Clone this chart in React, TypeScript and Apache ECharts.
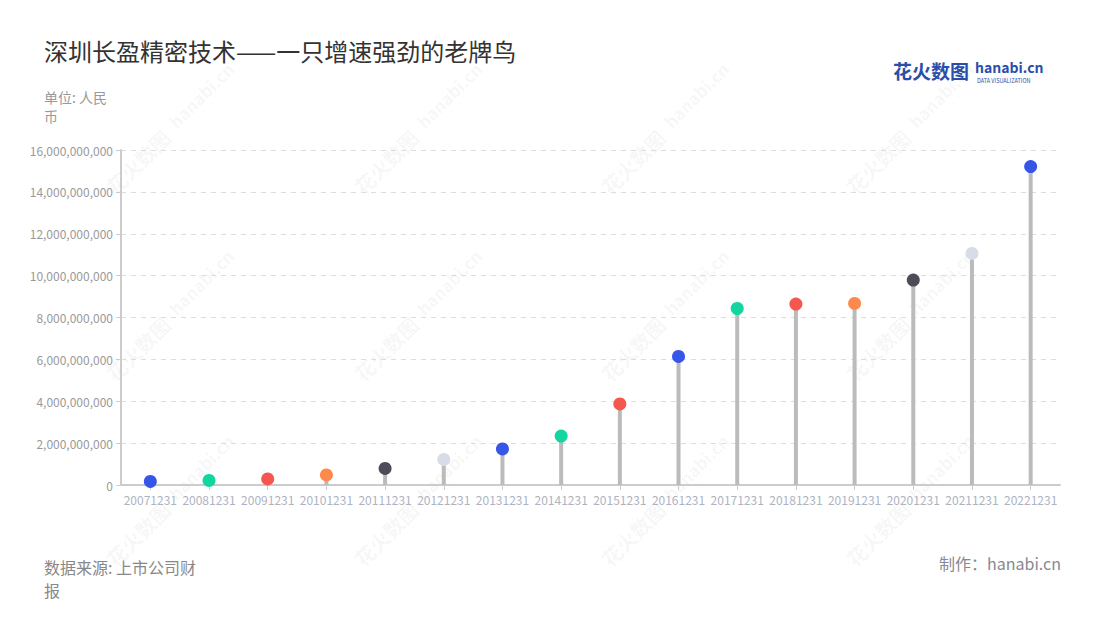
import React, { useEffect, useRef } from "react";
import * as echarts from "echarts";

const categories = [
  "20071231", "20081231", "20091231", "20101231", "20111231", "20121231",
  "20131231", "20141231", "20151231", "20161231", "20171231", "20181231",
  "20191231", "20201231", "20211231", "20221231",
];
const values = [
  170000000, 220000000, 290000000, 480000000, 790000000, 1220000000,
  1720000000, 2340000000, 3870000000, 6140000000, 8430000000, 8640000000,
  8670000000, 9790000000, 11060000000, 15210000000,
];
const dotColors = [
  "#3656e8", "#12d69e", "#f5574f", "#fd8a4c", "#4d4d58", "#d8dce6",
  "#3656e8", "#12d69e", "#f5574f", "#3656e8", "#12d69e", "#f5574f",
  "#fd8a4c", "#4d4d58", "#d8dce6", "#3656e8",
];
const yTicks = [0, 2000000000, 4000000000, 6000000000, 8000000000, 10000000000, 12000000000, 14000000000, 16000000000];
const titleText = "深圳长盈精密技术——一只增速强劲的老牌鸟";
const unitText = "单位: 人民\n币";
const sourceText = "数据来源: 上市公司财\n报";
const makerText = "制作：hanabi.cn";

const FONT = "'Noto Sans CJK SC', 'Noto Sans', sans-serif";
const WM = "rgba(0,0,0,0.05)";

function watermark(cx: number, cy: number) {
  return {
    type: "group",
    x: cx,
    y: cy,
    rotation: Math.PI / 4,
    silent: true,
    z: 0,
    children: [
      {
        type: "text",
        x: -48,
        y: 0,
        style: {
          text: "花火数图",
          fontSize: 20,
          fontWeight: "bold",
          fontFamily: FONT,
          fill: WM,
          align: "center",
          verticalAlign: "middle",
        },
      },
      {
        type: "text",
        x: 44,
        y: -3,
        style: {
          text: "hanabi.cn",
          fontSize: 17,
          fontWeight: "bold",
          fontFamily: FONT,
          fill: WM,
          align: "center",
          verticalAlign: "middle",
        },
      },
      {
        type: "text",
        x: 44,
        y: 10,
        style: {
          text: "DATA VISUALIZATION",
          fontSize: 5,
          fontFamily: FONT,
          fill: WM,
          align: "center",
          verticalAlign: "middle",
        },
      },
    ],
  };
}

export default function App() {
  const ref = useRef<HTMLDivElement>(null);
  useEffect(() => {
    if (!ref.current) return;
    const chart = echarts.init(ref.current, null, { renderer: "svg" });
    const wmXs = [172, 420, 667, 912];
    const wmYs = [128, 315, 500];
    const wms: any[] = [];
    wmYs.forEach((y) => wmXs.forEach((x) => wms.push(watermark(x, y))));

    chart.setOption({
      animation: false,
      backgroundColor: "#ffffff",
      textStyle: { fontFamily: FONT },
      grid: { left: 121, right: 40, top: 150, bottom: 135, containLabel: false },
      xAxis: {
        type: "category",
        data: categories,
        axisLine: { lineStyle: { color: "#cccccc", width: 2 } },
        axisTick: { show: true, alignWithLabel: true, length: 5, lineStyle: { color: "#cccccc" } },
        axisLabel: { color: "#aeb3c0", fontSize: 12, interval: 0, margin: 8, fontFamily: FONT },
      },
      yAxis: {
        type: "value",
        min: 0,
        max: yTicks[yTicks.length - 1],
        interval: yTicks[1] - yTicks[0],
        axisLine: { show: true, lineStyle: { color: "#cccccc", width: 2 } },
        axisTick: { show: true, length: 5, lineStyle: { color: "#cccccc" } },
        axisLabel: {
          color: "#999999",
          fontSize: 12,
          margin: 8,
          fontFamily: FONT,
          formatter: (v: number) => v.toLocaleString("en-US"),
        },
        splitLine: { show: true, lineStyle: { color: "#dddddd", type: [5, 5] } },
      },
      series: [
        {
          type: "bar",
          data: values,
          barWidth: 4,
          itemStyle: { color: "#bbbbbb" },
          z: 2,
        },
        {
          type: "scatter",
          data: values.map((v, i) => ({ value: v, itemStyle: { color: dotColors[i], opacity: 1 } })),
          symbol: "circle",
          symbolSize: 13,
          itemStyle: { opacity: 1 },
          z: 3,
        },
      ],
      graphic: [
        ...wms,
        {
          type: "text",
          left: 44,
          top: 38,
          style: { text: titleText, fontSize: 24, fill: "#333333", fontFamily: FONT },
        },
        {
          type: "text",
          left: 44,
          top: 87,
          style: { text: unitText, fontSize: 14, lineHeight: 19, fill: "#999999", fontFamily: FONT },
        },
        {
          type: "text",
          left: 44,
          top: 555,
          style: { text: sourceText, fontSize: 16, lineHeight: 23, fill: "#888888", fontFamily: FONT },
        },
        {
          type: "text",
          right: 39,
          top: 555,
          style: { text: makerText, fontSize: 16, fill: "#888890", fontFamily: FONT },
        },
        {
          type: "text",
          left: 893,
          top: 61,
          style: { text: "花火数图", fontSize: 19, fontWeight: "bold", fill: "#2b4ea8", fontFamily: FONT },
        },
        {
          type: "text",
          left: 975,
          top: 60,
          style: { text: "hanabi.cn", fontSize: 14, fontWeight: "bold", fill: "#2b4ea8", fontFamily: FONT },
        },
        {
          type: "text",
          left: 977,
          top: 78,
          style: { text: "DATA VISUALIZATION", fontSize: 5.5, fill: "#2b4ea8", fontFamily: FONT },
        },
      ],
    });
    return () => chart.dispose();
  }, []);
  return (
    <div
      ref={ref}
      style={{ position: "fixed", left: 0, top: 0, width: 1100, height: 620 }}
    />
  );
}
